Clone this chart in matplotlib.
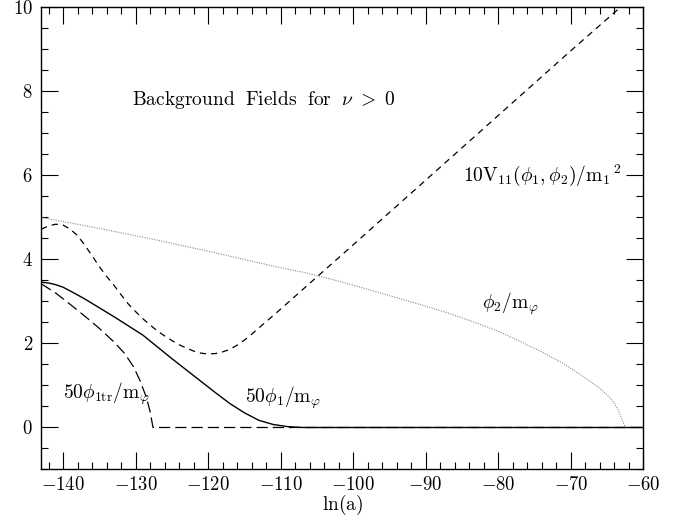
import matplotlib
matplotlib.use("Agg")
import matplotlib.pyplot as plt
from matplotlib.ticker import MultipleLocator, FuncFormatter

plt.rcParams['mathtext.fontset'] = 'cm'
plt.rcParams['font.family'] = ['DejaVu Serif']

# phi2 / m (dotted)
phi2_x = [-143, -139, -135, -131, -127, -123, -119, -115, -111, -107, -103, -99, -95, -91, -87,
          -83, -80, -77, -74, -71, -68, -66, -65, -64, -63.5, -63.0, -62.5]
phi2_y = [5.00, 4.87, 4.74, 4.60, 4.46, 4.31, 4.16, 4.00, 3.84, 3.70, 3.53, 3.34, 3.14, 2.94, 2.73,
          2.49, 2.29, 2.05, 1.80, 1.52, 1.18, 0.93, 0.78, 0.58, 0.42, 0.22, 0.0]

# 10 V11 / m1^2 (short dashed)
v_x = [-143, -142, -141, -140, -139, -138, -137, -136, -135, -134, -133, -132, -131, -130, -129, -128,
       -127, -126, -125, -124, -123, -122, -121, -120, -119, -118, -117, -116, -115, -114, -113, -112,
       -111, -110, -100, -90, -80, -70, -63.2]
v_y = [4.72, 4.80, 4.84, 4.82, 4.72, 4.57, 4.34, 4.09, 3.83, 3.60, 3.39, 3.16, 2.94, 2.76, 2.59, 2.44,
       2.30, 2.18, 2.07, 1.97, 1.89, 1.82, 1.77, 1.75, 1.76, 1.80, 1.86, 1.96, 2.08, 2.22, 2.37, 2.52,
       2.67, 2.82, 4.35, 5.89, 7.43, 8.97, 10.0]

# 50 phi1 / m (solid)
phi1_x = [-143, -142, -141, -140, -139, -137, -135, -133, -131, -129, -127, -125, -123, -121, -119,
          -117, -115, -113, -111, -109, -107, -60]
phi1_y = [3.46, 3.44, 3.40, 3.34, 3.25, 3.06, 2.85, 2.64, 2.42, 2.20, 1.92, 1.64, 1.37, 1.10, 0.83,
          0.57, 0.35, 0.17, 0.07, 0.02, 0.0, 0.0]

# 50 phi1tr / m (long dashed)
tr_x = [-143, -141, -139, -137, -135, -133, -131.5, -130.3, -129.4, -128.5, -128.0, -127.6, -60]
tr_y = [3.42, 3.20, 2.93, 2.65, 2.36, 2.04, 1.76, 1.45, 1.12, 0.71, 0.38, 0.0, 0.0]

fig = plt.figure(figsize=(6.78, 5.17), dpi=100)
ax = fig.add_axes([0.0609, 0.0919, 0.888, 0.8936])

ax.plot(phi2_x, phi2_y, color='#8a8a8a', lw=0.8, linestyle=(0, (1, 1.2)))
ax.plot(v_x, v_y, color='black', lw=0.9, linestyle=(0, (5, 4)))
ax.plot(tr_x, tr_y, color='black', lw=0.9, linestyle=(0, (9, 4)))
ax.plot(phi1_x, phi1_y, color='black', lw=1.0)

ax.set_xlim(-143, -60)
ax.set_ylim(-1, 10)
ax.xaxis.set_major_locator(MultipleLocator(10))
ax.xaxis.set_minor_locator(MultipleLocator(2))
ax.yaxis.set_major_locator(MultipleLocator(2))
ax.yaxis.set_minor_locator(MultipleLocator(0.5))
fmt = FuncFormatter(lambda v, p: r'$%d$' % round(v))
ax.xaxis.set_major_formatter(fmt)
ax.yaxis.set_major_formatter(fmt)
ax.tick_params(which='both', direction='in', top=True, right=True, width=0.8, labelsize=13.5)
ax.tick_params(axis='x', pad=5)
ax.tick_params(axis='y', pad=6)
ax.tick_params(which='major', length=12)
ax.tick_params(which='minor', length=5)
for s in ax.spines.values():
    s.set_linewidth(1.0)

ax.set_xlabel(r'$\mathrm{ln(a)}$', fontsize=14, labelpad=-1)

fs = 14
ax.text(-130.5, 7.8, r'$\mathrm{Background\ \ Fields\ \ for}\ \ \nu\ >\ 0$', fontsize=fs, va='center', ha='left')
ax.text(-84.8, 6.0, r'$\mathrm{10V_{11}(\phi_1,\phi_2)/m_1}^{\,2}$', fontsize=fs, va='center', ha='left')
ax.text(-82.3, 2.94, r'$\phi_2/\mathrm{m}_\varphi$', fontsize=fs, va='center', ha='left')
ax.text(-140.0, 0.8, r'$\mathrm{50}\phi_{\mathrm{1tr}}/\mathrm{m}_\varphi$', fontsize=fs, va='center', ha='left')
ax.text(-114.9, 0.7, r'$\mathrm{50}\phi_1/\mathrm{m}_\varphi$', fontsize=fs, va='center', ha='left')

fig.savefig('out.png', dpi=100)
